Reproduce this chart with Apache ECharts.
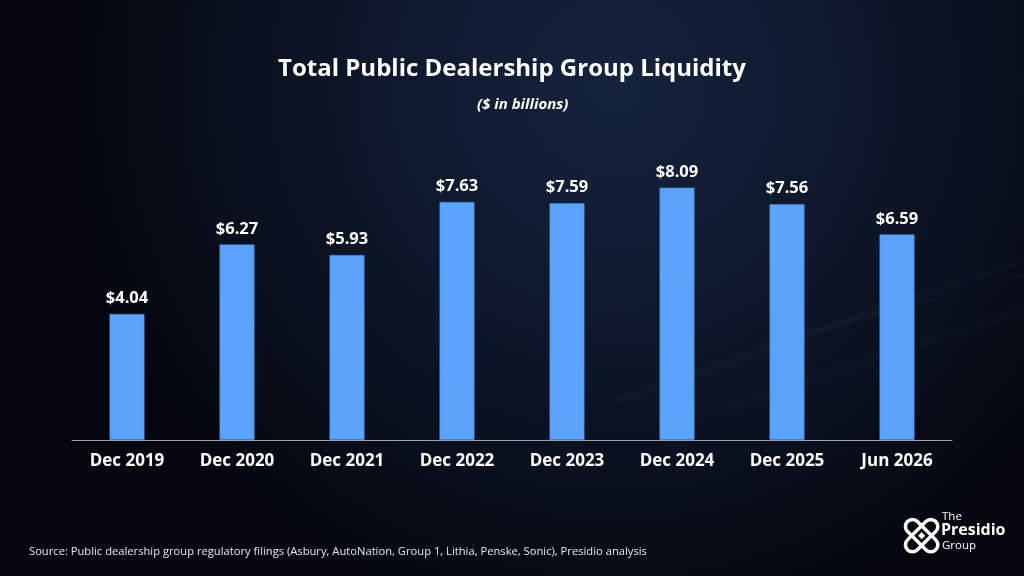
<!DOCTYPE html>
<html>
<head>
<meta charset="utf-8">
<script src="https://cdn.jsdelivr.net/npm/echarts@6/dist/echarts.min.js"></script>
<style>
  html, body { margin: 0; padding: 0; background: #070b16; }
  #chart { width: 1024px; height: 576px; }
</style>
</head>
<body>
<div id="chart"></div>
<script>
// periods on the x axis
var periods = ['Dec 2019', 'Dec 2020', 'Dec 2021', 'Dec 2022', 'Dec 2023', 'Dec 2024', 'Dec 2025', 'Jun 2026'];
// liquidity, $ billions
var liquidity = [4.04, 6.27, 5.93, 7.63, 7.59, 8.09, 7.56, 6.59];

var chart = echarts.init(document.getElementById('chart'));

var font = '"Open Sans", Lato, sans-serif';

var option = {
    backgroundColor: {
        type: 'radial', x: 0.6, y: 0.15, r: 0.95,
        colorStops: [
            { offset: 0, color: '#16233d' },
            { offset: 0.5, color: '#0d1629' },
            { offset: 1, color: '#04070e' }
        ]
    },
    title: [{
        text: 'Total Public Dealership Group Liquidity',
        left: 'center', top: 52,
        textStyle: { color: '#ffffff', fontFamily: font, fontWeight: 'bold', fontSize: 24 }
    }, {
        text: '($ in billions)',
        left: 472, top: 92,
        textStyle: { color: '#ffffff', fontFamily: font, fontWeight: 'bold', fontStyle: 'italic', fontSize: 15 }
    }, {
        text: 'Source: Public dealership group regulatory filings (Asbury, AutoNation, Group 1, Lithia, Penske, Sonic), Presidio analysis',
        left: 24, top: 541,
        textStyle: { color: '#e6e8ee', fontFamily: font, fontWeight: 'normal', fontSize: 11.2 }
    }],
    grid: { left: 72, right: 72, top: 128, bottom: 136 },
    xAxis: {
        type: 'category',
        data: periods,
        axisLine: { lineStyle: { color: '#a0a4ac', width: 1 } },
        axisTick: { show: false },
        axisLabel: { color: '#ffffff', fontFamily: font, fontWeight: 'bold', fontSize: 17, margin: 13 }
    },
    yAxis: {
        type: 'value', min: 0, max: 10,
        show: false,
        splitLine: { show: false }
    },
    series: [{
        type: 'bar',
        data: liquidity,
        barWidth: 35,
        itemStyle: { color: '#5ba4fb', borderColor: '#3f7fd0', borderWidth: 0.6 },
        label: {
            show: true, position: 'top', distance: 7,
            color: '#ffffff', fontFamily: font, fontWeight: 'bold', fontSize: 16.5,
            formatter: function (p) { return '$' + p.value.toFixed(2); }
        }
    }],
    graphic: [
        // faint light streaks on the right
        { type: 'line', silent: true, shape: { x1: 620, y1: 400, x2: 1024, y2: 260 },
          style: { stroke: 'rgba(120,150,200,0.035)', lineWidth: 8, shadowBlur: 14, shadowColor: 'rgba(120,150,200,0.15)' } },
        { type: 'line', silent: true, shape: { x1: 760, y1: 345, x2: 1024, y2: 275 },
          style: { stroke: 'rgba(120,150,200,0.04)', lineWidth: 2, shadowBlur: 8, shadowColor: 'rgba(120,150,200,0.15)' } },
        { type: 'line', silent: true, shape: { x1: 720, y1: 410, x2: 1024, y2: 310 },
          style: { stroke: 'rgba(120,150,200,0.03)', lineWidth: 10, shadowBlur: 16, shadowColor: 'rgba(120,150,200,0.1)' } },
        // logo mark
        { type: 'group', left: 899, top: 513, children: [
            { type: 'rect', shape: { x: -7, y: -20, width: 14, height: 40, r: 7 }, rotation: Math.PI / 4,
              x: 18, y: 18, style: { fill: 'none', stroke: '#ffffff', lineWidth: 3.5 } },
            { type: 'rect', shape: { x: -7, y: -20, width: 14, height: 40, r: 7 }, rotation: -Math.PI / 4,
              x: 18, y: 18, style: { fill: 'none', stroke: '#ffffff', lineWidth: 3.5 } },
            { type: 'rect', shape: { x: -2.5, y: -2.5, width: 5, height: 5 }, rotation: Math.PI / 4,
              x: 18, y: 18, style: { fill: '#ffffff' } }
        ]},
        { type: 'text', left: 942, top: 511,
          style: { text: 'The', fill: '#ffffff', font: '11.5px ' + font } },
        { type: 'text', left: 941, top: 522,
          style: { text: 'Presidio', fill: '#ffffff', font: 'bold 16px ' + font } },
        { type: 'text', left: 942, top: 540,
          style: { text: 'Group', fill: '#ffffff', font: '11.5px ' + font } }
    ]
};

chart.setOption(option);
</script>
</body>
</html>
